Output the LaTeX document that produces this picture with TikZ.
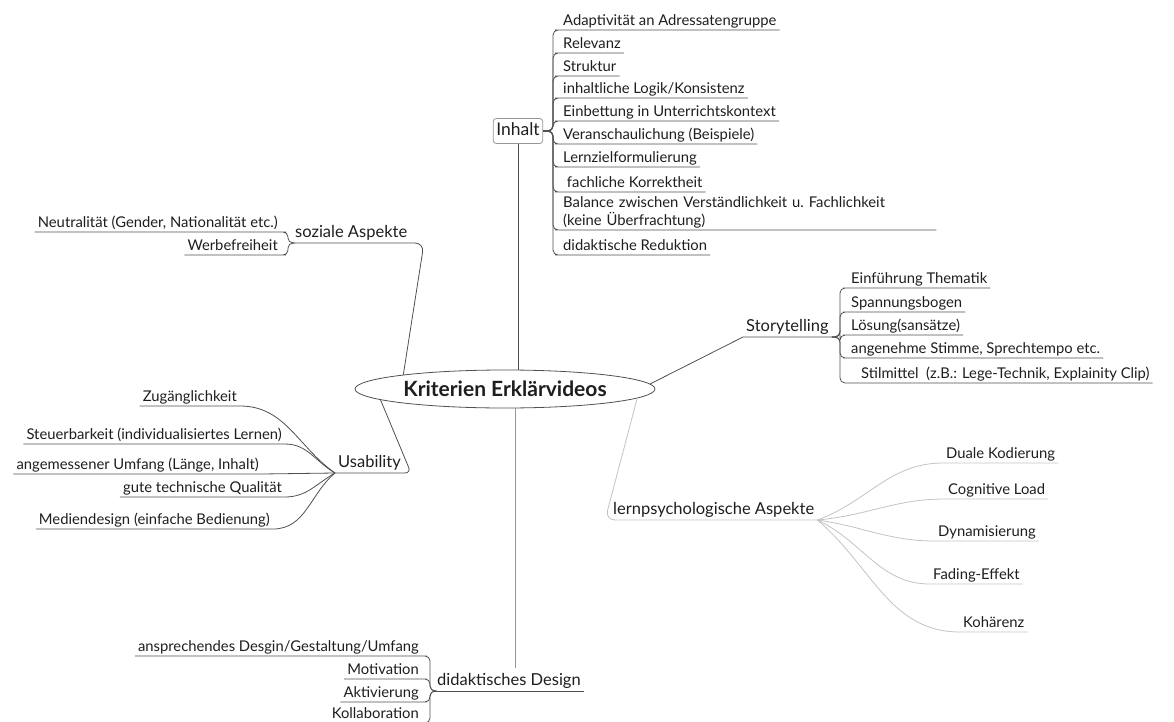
\documentclass[tikz,border=0pt]{standalone}
\usepackage{fontspec}
\setmainfont{Lato}
\usepackage{tikz}
\usetikzlibrary{shapes.geometric}
\definecolor{ink}{RGB}{30, 30, 30}
\definecolor{linegray}{RGB}{80, 80, 80}
\definecolor{softgray}{RGB}{150, 150, 150}
\definecolor{faintgray}{RGB}{195, 195, 195}

\begin{document}
\begin{tikzpicture}[x=1pt, y=-1pt,
  leaf/.style={font=\fontsize{14.8}{18}\selectfont, text=ink, inner xsep=3pt, inner ysep=1.2pt,
               text height=11pt, text depth=3pt},
  branch/.style={font=\fontsize{16.5}{19}\selectfont, text=ink, inner xsep=3pt, inner ysep=1.5pt,
                 text height=12.5pt, text depth=3.5pt},
  link/.style={draw=linegray, line width=0.8pt},
  faint/.style={draw=faintgray, line width=0.8pt},
  brace/.style={link, rounded corners=5pt}]

  \useasboundingbox (0, 0) rectangle (1174, 722);

  \node [ellipse, draw=linegray, line width=0.8pt, minimum width=300, minimum height=38,
         inner sep=0, text=ink, font=\fontsize{21}{24}\selectfont\bfseries] (ell) at (505, 389)
        {Kriterien Erklärvideos};

  %
  \node [branch, font=\fontsize{17.5}{20}\selectfont, draw=softgray, rounded corners=3pt,
         minimum height=25, line width=0.8pt] (inh) at (518, 131) {Inhalt};
  \draw [link] (inh.south) -- (ell.north -| inh.south);
  \coordinate (brI) at (553, 131);

  \node [leaf, anchor=south west] (i1) at (560, 30) {Adaptivität an Adressatengruppe};
  \node [leaf, anchor=south west] (i2) at (560, 53) {Relevanz};
  \node [leaf, anchor=south west] (i3) at (560, 76) {Struktur};
  \node [leaf, anchor=south west] (i4) at (560, 98) {inhaltliche Logik/Konsistenz};
  \node [leaf, anchor=south west] (i5) at (560, 121) {Einbettung in Unterrichtskontext};
  \node [leaf, anchor=south west] (i6) at (560, 144) {Veranschaulichung (Beispiele)};
  \node [leaf, anchor=south west] (i7) at (560, 167) {Lernzielformulierung};
  \node [leaf, anchor=south west] (i8) at (560, 192) {\ fachliche Korrektheit};
  \node [leaf, anchor=south west, text width=370, align=left, text height=, text depth=,
         inner ysep=2pt] (i9) at (560, 230)
        {Balance zwischen Verständlichkeit u.\ Fachlichkeit\\(keine Überfrachtung)};
  \node [leaf, anchor=south west] (i10) at (560, 255) {didaktische Reduktion};

  \draw [brace] (inh.east) -- (brI) |- (i1.south west) -- (i1.south east);
  \draw [brace] (inh.east) -- (brI) |- (i2.south west) -- (i2.south east);
  \draw [brace] (inh.east) -- (brI) |- (i3.south west) -- (i3.south east);
  \draw [brace] (inh.east) -- (brI) |- (i4.south west) -- (i4.south east);
  \draw [brace] (inh.east) -- (brI) |- (i5.south west) -- (i5.south east);
  \draw [brace] (inh.east) -- (brI) |- (i6.south west) -- (i6.south east);
  \draw [brace] (inh.east) -- (brI) |- (i7.south west) -- (i7.south east);
  \draw [brace] (inh.east) -- (brI) |- (i8.south west) -- (i8.south east);
  \draw [brace] (inh.east) -- (brI) |- (i9.south west) -- (i9.south east);
  \draw [brace] (inh.east) -- (brI) |- (i10.south west) -- (i10.south east);

  %
  \node [branch, anchor=south west] (soz) at (292, 243) {soziale Aspekte};
  \coordinate (soz-c) at (424, 243);
  \coordinate (brZ) at (288, 243);
  \draw [link, rounded corners=9pt] (ell.172) -- (soz-c) -- (soz.south west);

  \node [leaf, anchor=south east] (z1) at (281, 232) {Neutralität (Gender, Nationalität etc.)};
  \node [leaf, anchor=south east] (z2) at (281, 255) {Werbefreiheit};
  \draw [brace] (soz.south west) -- (brZ) |- (z1.south east) -- (z1.south west);
  \draw [brace] (soz.south west) -- (brZ) |- (z2.south east) -- (z2.south west);

  %
  \node [branch, anchor=south west] (us) at (335, 473) {Usability};
  \coordinate (us-c) at (411, 473);
  \draw [link, rounded corners=6pt] (ell.185) -- (us-c) -- (us.south west);

  \node [leaf, anchor=south east] (u1) at (240, 406) {Zugänglichkeit};
  \node [leaf, anchor=south east] (u2) at (285, 444) {Steuerbarkeit (individualisiertes Lernen)};
  \node [leaf, anchor=south east] (u3) at (262, 474) {angemessener Umfang (Länge, Inhalt)};
  \node [leaf, anchor=south east] (u4) at (285, 497) {gute technische Qualität};
  \node [leaf, anchor=south east] (u5) at (273, 529) {Mediendesign (einfache Bedienung)};
  \draw [link] (us.south west) to[out=145, in=0] (u1.south east) -- (u1.south west);
  \draw [link] (us.south west) to[out=150, in=0] (u2.south east) -- (u2.south west);
  \draw [link] (us.south west) -- (u3.south east) -- (u3.south west);
  \draw [link] (us.south west) to[out=210, in=0] (u4.south east) -- (u4.south west);
  \draw [link] (us.south west) to[out=220, in=0] (u5.south east) -- (u5.south west);

  %
  \node [branch, anchor=south west] (st) at (743, 337) {Storytelling};
  \coordinate (brS) at (840, 337);
  \draw [link] (ell.2) -- (st.south west) -- (st.south east);

  \node [leaf, anchor=south west] (s1) at (848, 288) {Einführung Thematik};
  \node [leaf, anchor=south west] (s2) at (848, 312) {Spannungsbogen};
  \node [leaf, anchor=south west] (s3) at (848, 335) {Lösung(sansätze)};
  \node [leaf, anchor=south west] (s4) at (848, 358) {angenehme Stimme, Sprechtempo etc.};
  \node [leaf, anchor=south west] (s5) at (858, 383) {Stilmittel~ (z.B.: Lege-Technik, Explainity Clip)};
  \draw [brace] (st.south east) -- (brS) |- (s1.south west) -- (s1.south east);
  \draw [brace] (st.south east) -- (brS) |- (s2.south west) -- (s2.south east);
  \draw [brace] (st.south east) -- (brS) |- (s3.south west) -- (s3.south east);
  \draw [brace] (st.south east) -- (brS) |- (s4.south west) -- (s4.south east);
  \draw [brace] (st.south east) -- (brS) |- (s5.south west) -- (s5.south east);

  %
  \node [branch, anchor=south west] (lp) at (610, 520) {lernpsychologische Aspekte};
  \coordinate (lp-c) at (605, 520);
  \draw [faint, rounded corners=10pt] (ell.-4) -- (lp-c) -- (lp.south east);

  \node [leaf, anchor=south west] (l1) at (943, 463) {Duale Kodierung};
  \node [leaf, anchor=south west] (l2) at (945, 499) {Cognitive Load};
  \node [leaf, anchor=south west] (l3) at (935, 541) {Dynamisierung};
  \node [leaf, anchor=south west] (l4) at (930, 584) {Fading-Effekt};
  \node [leaf, anchor=south west] (l5) at (960, 632) {Kohärenz};
  \draw [faint] (lp.south east) to[out=20, in=180] (l1.south west) -- (l1.south east);
  \draw [faint] (lp.south east) to[out=5, in=180] (l2.south west) -- (l2.south east);
  \draw [faint] (lp.south east) to[out=-8, in=180] (l3.south west) -- (l3.south east);
  \draw [faint] (lp.south east) to[out=-25, in=180] (l4.south west) -- (l4.south east);
  \draw [faint] (lp.south east) to[out=-40, in=180] (l5.south west) -- (l5.south east);

  %
  \node [branch, anchor=south west] (dd) at (434, 691) {didaktisches Design};
  \coordinate (dd-top) at (515, 668);
  \coordinate (brD) at (430, 691);
  \draw [draw=softgray, line width=0.8pt] (ell.south -| dd-top) -- (dd-top);
  \draw [link] (dd.south west) -- (dd.south east);

  \node [leaf, anchor=south east] (d1) at (422, 656) {ansprechendes Desgin/Gestaltung/Umfang};
  \node [leaf, anchor=south east] (d2) at (422, 679) {Motivation};
  \node [leaf, anchor=south east] (d3) at (422, 702) {Aktivierung};
  \node [leaf, anchor=south east] (d4) at (422, 723) {Kollaboration};
  \draw [brace] (dd.south west) -- (brD) |- (d1.south east) -- (d1.south west);
  \draw [brace] (dd.south west) -- (brD) |- (d2.south east) -- (d2.south west);
  \draw [brace] (dd.south west) -- (brD) |- (d3.south east) -- (d3.south west);
  \draw [brace] (dd.south west) -- (brD) |- (d4.south east) -- (d4.south west);

\end{tikzpicture}
\end{document}
